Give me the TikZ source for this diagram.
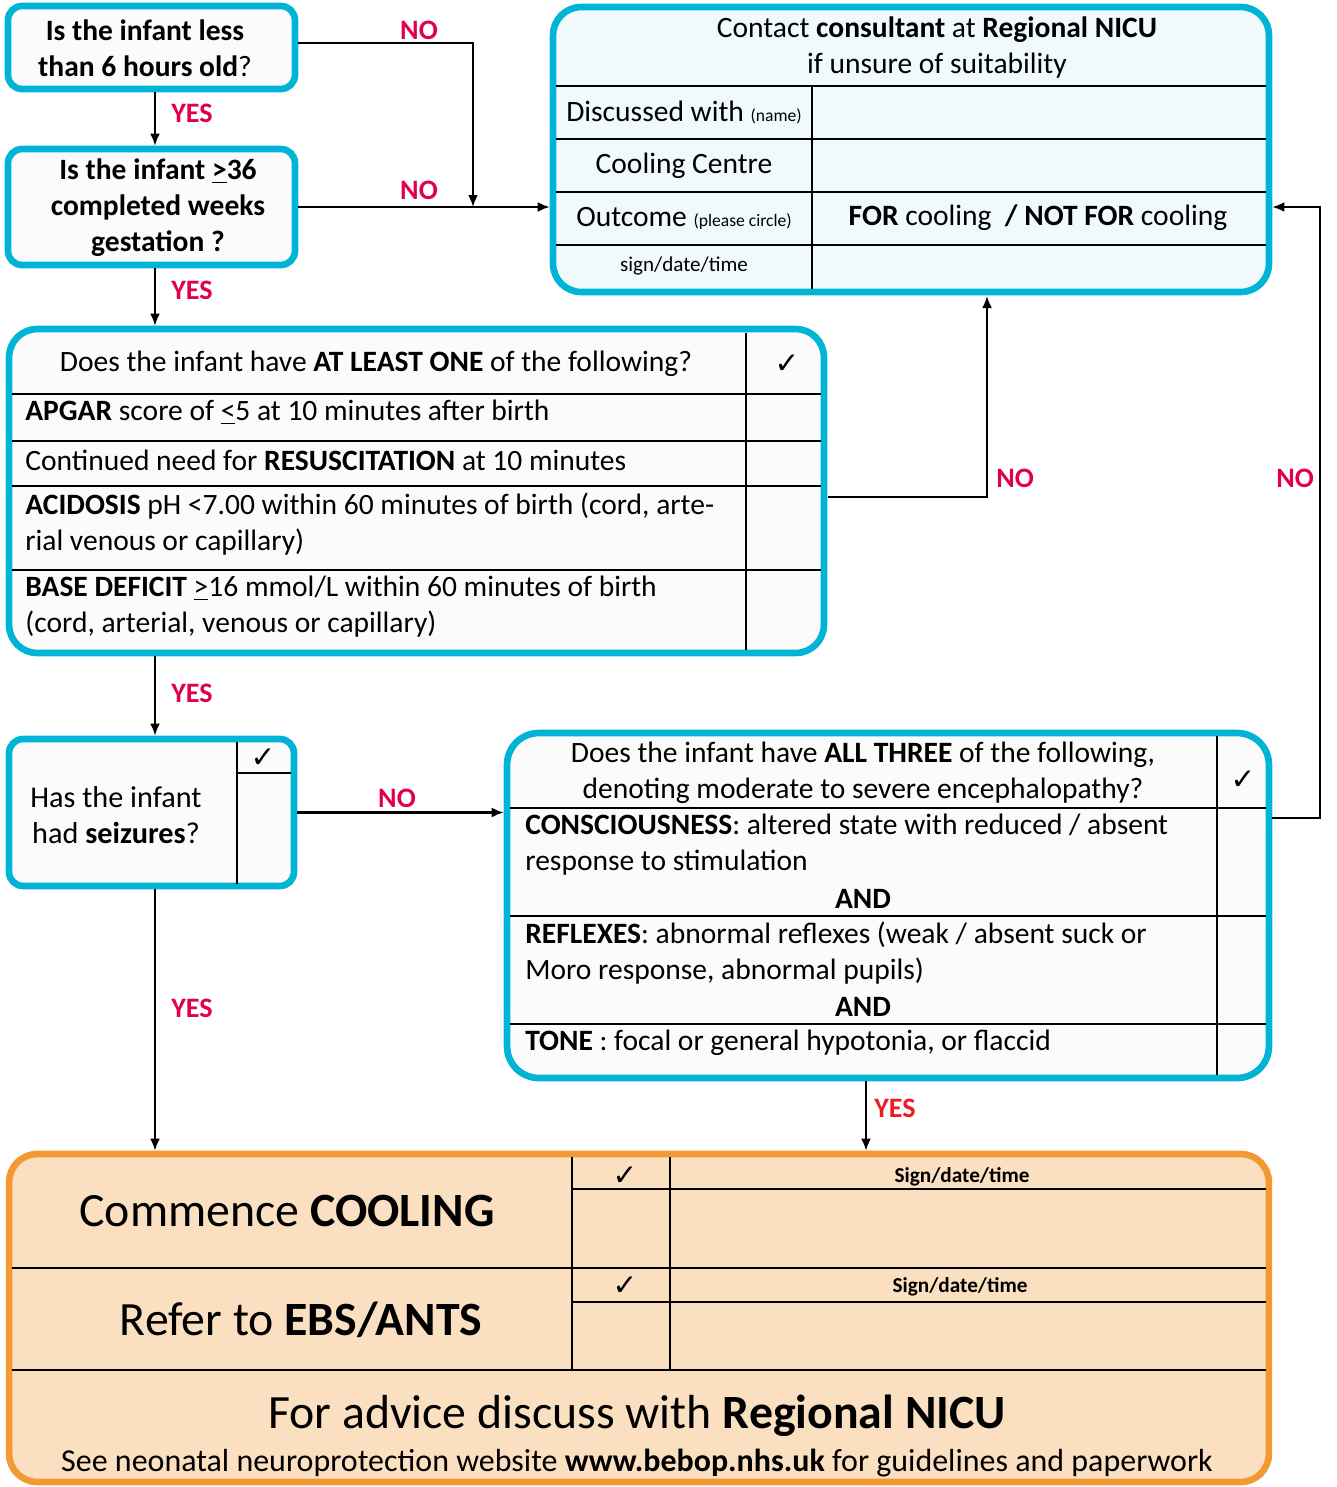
\documentclass[tikz,border=0pt]{standalone}
\usepackage{fontspec}
\setmainfont{Carlito}
\newfontfamily\symfont{DejaVu Sans}
\usetikzlibrary{arrows.meta}

\definecolor{boxcyan}{RGB}{0,180,214}
\definecolor{qfill}{RGB}{251,251,251}
\definecolor{cfill}{RGB}{240,250,252}
\definecolor{endorange}{RGB}{242,153,51}
\definecolor{endfill}{RGB}{250,223,192}
\definecolor{labred}{RGB}{224,0,77}
\definecolor{yesred}{RGB}{237,28,36}

\newcommand{\ck}{{\symfont\bfseries ✓}}
\newcommand{\fs}[2]{\fontsize{#1}{#2}\selectfont}

\begin{document}
\begin{tikzpicture}[x=0.02cm,y=-0.02cm,
  qbox/.style={draw=boxcyan,line width=3.8pt,fill=qfill,rounded corners=8pt,inner sep=0pt},
  endbox/.style={draw=endorange,line width=3.8pt,fill=endfill,rounded corners=16pt,inner sep=0pt},
  txt/.style={inner sep=0pt,align=center,font=\fs{16.8}{20.5}},
  ltxt/.style={inner sep=0pt,align=left,anchor=west,font=\fs{16.8}{20.5}},
  rule/.style={line width=1.1pt},
  arr/.style={line width=1.3pt,-{Latex[length=2.4mm,width=2mm]}},
  lbl/.style={inner sep=0pt,text=labred,font=\bfseries\fs{16}{20}}
]
\useasboundingbox (0,0) rectangle (1336,1487);

% first two questions
\node[qbox,minimum width=5.74cm,minimum height=1.66cm] (age) at (151.5,47.5) {};
\node[txt,font=\bfseries\fs{16.8}{20.5}] (agetxt) at (145,48) {Is the infant less\\than 6 hours old\mdseries?};
\node[qbox,minimum width=5.74cm,minimum height=2.32cm] (gest) at (151.5,207) {};
\node[txt,font=\bfseries\fs{16.8}{20.5}] (gesttxt) at (158,208) {Is the infant \underline{>}36\\completed weeks\\gestation ?};

% contact box
\node[qbox,fill=cfill,rounded corners=16pt,minimum width=14.32cm,minimum height=5.7cm] (contact) at (911,149.5) {};
\foreach \y in {86,139,192,245}
  \draw[rule] (556,\y) -- (1266,\y);
\draw[rule] (812,86) -- (812,289);
\node[txt] (ctitle) at (937,48) {Contact \textbf{consultant} at \textbf{Regional NICU}\\if unsure of suitability};
\node[txt] (cname) at (684,112) {Discussed with {\fs{10}{12}(name)}};
\node[txt] (ccentre) at (684,166) {Cooling Centre};
\node[txt] (cout) at (684,218) {Outcome {\fs{10}{12}(please circle)}};
\node[txt,font=\fs{12}{14}] (csign) at (684,266) {sign/date/time};
\node[txt] (cfor) at (1038,218) {\textbf{FOR} cooling\ \ \textbf{/ NOT FOR} cooling};

% at least one
\node[qbox,rounded corners=16pt,minimum width=16.3cm,minimum height=6.48cm] (least) at (416.5,491) {};
\foreach \y in {394,441,486,570}
  \draw[rule] (12,\y) -- (821,\y);
\draw[rule] (746,333) -- (746,650);
\node[txt] (lhead) at (376,364) {Does the infant have \textbf{AT LEAST ONE} of the following?};
\node[txt] (lck) at (787,364) {\ck};
\node[ltxt] (apgar) at (25,412) {\textbf{APGAR} score of \underline{<}5 at 10 minutes after birth};
\node[ltxt] (resus) at (25,460) {Continued need for \textbf{RESUSCITATION} at 10 minutes};
\node[ltxt] (acid) at (25,524) {\textbf{ACIDOSIS} pH <7.00 within 60 minutes of birth (cord, arte-\\rial venous or capillary)};
\node[ltxt] (base) at (25,607) {\textbf{BASE DEFICIT} \underline{>}16 mmol/L within 60 minutes of birth\\(cord, arterial, venous or capillary)};

% seizures
\node[qbox,minimum width=5.7cm,minimum height=2.94cm] (seiz) at (151.5,812.5) {};
\draw[rule] (237,742) -- (237,884);
\draw[rule] (237,773) -- (291,773);
\node[txt] (sck) at (263,758) {\ck};
\node[txt,font=\fs{17.2}{20.5}] (stxt) at (116,815) {Has the infant\\had \textbf{seizures}?};

% all three
\node[qbox,rounded corners=18pt,minimum width=15.24cm,minimum height=6.9cm] (three) at (888,905.5) {};
\foreach \y in {808,916,1024}
  \draw[rule] (510,\y) -- (1266,\y);
\draw[rule] (1217,736) -- (1217,1075);
\node[txt] (thead) at (863,773) {Does the infant have \textbf{ALL THREE} of the following,\\denoting moderate to severe encephalopathy?};
\node[txt] (tck) at (1243,780) {\ck};
\node[ltxt] (consc) at (525,845) {\textbf{CONSCIOUSNESS}: altered state with reduced / absent\\response to stimulation};
\node[txt] (and1) at (863,899) {\textbf{AND}};
\node[ltxt] (refl) at (525,953) {\textbf{REFLEXES}: abnormal reflexes (weak / absent suck or\\Moro response, abnormal pupils)};
\node[txt] (and2) at (863,1007) {\textbf{AND}};
\node[ltxt] (tone) at (525,1043) {\textbf{TONE} : focal or general hypotonia, or flaccid};

% outcome
\node[endbox,minimum width=25.2cm,minimum height=6.56cm] (cool) at (639,1318) {};
\draw[rule] (12,1268) -- (1266,1268);
\draw[rule] (12,1370) -- (1266,1370);
\draw[rule] (572,1157) -- (572,1370);
\draw[rule] (670,1157) -- (670,1370);
\draw[rule] (572,1189) -- (1266,1189);
\draw[rule] (572,1302) -- (1266,1302);
\node[txt,font=\fs{27.2}{30}] (commence) at (287,1211) {Commence \textbf{COOLING}};
\node[txt,font=\fs{27.2}{30}] (refer) at (301,1320) {Refer to \textbf{EBS/ANTS}};
\node[txt] (ck1) at (625,1176) {\ck};
\node[txt] (ck2) at (625,1286) {\ck};
\node[txt,font=\bfseries\fs{12.1}{14}] (sig1) at (962,1177) {Sign/date/time};
\node[txt,font=\bfseries\fs{12.1}{14}] (sig2) at (960,1287) {Sign/date/time};
\node[txt,font=\fs{27.2}{30}] (advice) at (637,1416) {For advice discuss with \textbf{Regional NICU}};
\node[txt,font=\fs{18.2}{20}] (web) at (637,1463) {See neonatal neuroprotection website \textbf{www.bebop.nhs.uk} for guidelines and paperwork};

% connectors
\coordinate (lane) at (155,0);
\coordinate (topno) at (473,43);
\coordinate (meet) at (473,207);
\coordinate (cbot) at (987,296);
\coordinate (rside) at (1320,818);
\coordinate (ydrop) at (866,1100);
\coordinate (lout) at (828,497);
\draw[arr] (age.south -| lane) -- (gest.north -| lane);
\draw[arr] (age.east |- topno) -- (topno) -- (meet);
\draw[arr] (gest.east) -- (gest.east -| contact.west);
\draw[arr] (gest.south -| lane) -- (least.north -| lane);
\draw[arr] (lout) -| (cbot);
\draw[arr] (least.south -| lane) -- (seiz.north -| lane);
\draw[arr] (seiz.east) -- (seiz.east -| three.west);
\draw[arr] (seiz.south -| lane) -- (cool.north -| lane);
\draw[arr] (three.east |- rside) -- (rside) |- (contact.east |- gest.east);
\draw[arr] (three.south -| ydrop) -- (ydrop |- cool.north);

\node[lbl] (no1) at (419,30) {NO};
\node[lbl] (no2) at (419,190) {NO};
\node[lbl] (yes1) at (192,113) {YES};
\node[lbl] (yes2) at (192,290) {YES};
\node[lbl] (no3) at (1015,478) {NO};
\node[lbl] (no4) at (1295,478) {NO};
\node[lbl] (yes3) at (192,693) {YES};
\node[lbl] (no5) at (397,798) {NO};
\node[lbl] (yes4) at (192,1008) {YES};
\node[lbl,text=yesred] (yes5) at (895,1108) {YES};
\end{tikzpicture}
\end{document}
